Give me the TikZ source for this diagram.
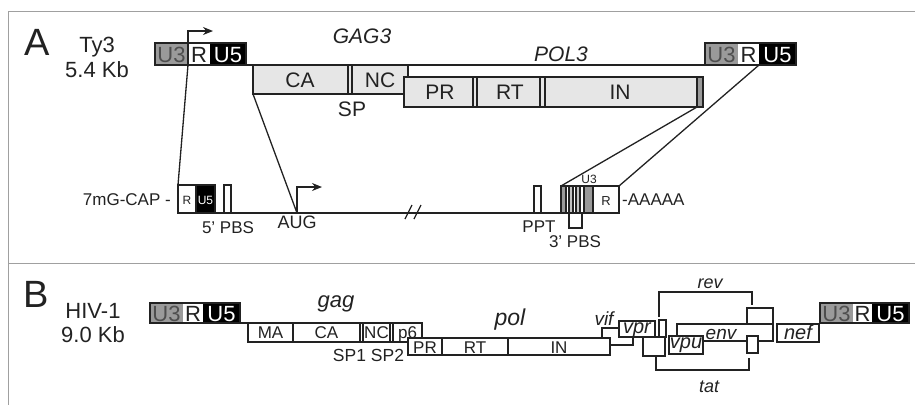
\documentclass[tikz,border=0pt]{standalone}
\usepackage{fontspec}
\setmainfont{Liberation Sans}
\usetikzlibrary{arrows.meta}
\definecolor{ltrg}{HTML}{9A9A9A}
\definecolor{boxg}{HTML}{E6E6E6}
\definecolor{frameg}{HTML}{A0A0A0}
\definecolor{ink}{HTML}{222222}
\newcommand{\fsz}[1]{\fontsize{#1}{#1}\selectfont}
\begin{document}
\begin{tikzpicture}[x=1pt,y=-1pt,
  bx/.style={draw=ink, line width=1.3pt},
  ln/.style={draw=ink, line width=1.3pt},
  t/.style={anchor=base, inner sep=0pt, text=ink},
  arr/.style={ln, -{Stealth[length=10pt,width=8pt]}},
  gfill/.style={bx, fill=boxg},
  wfill/.style={bx, fill=white}]
\useasboundingbox (0,0) rectangle (915,405);
% frame
\draw[frameg, line width=1pt] (915,11) -- (8,11) -- (8,405);
\draw[frameg, line width=1pt] (8,263) -- (915,263);

% ================= Panel A =================
\node[t, font=\fsz{38}] (A) at (37,55) {A};
\node[t, font=\fsz{22}] (ty3) at (97,52) {Ty3};
\node[t, font=\fsz{22}] (ty3kb) at (97,77) {5.4 Kb};

% left LTR
\fill[ltrg] (155,43) rectangle (188,65);
\fill[white] (188,43) rectangle (210,65);
\fill[black] (210,43) rectangle (246,65);
\draw[bx] (155,43) rectangle (246,65);
\node[t, font=\fsz{22}, text=ink!80] (aU3l) at (171.5,62.5) {U3};
\node[t, font=\fsz{22}] (aRl) at (199,62.5) {R};
\node[t, font=\fsz{22}, text=white] (aU5l) at (228,62.5) {U5};

% right LTR
\fill[ltrg] (705,43) rectangle (738,65);
\fill[white] (738,43) rectangle (759,65);
\fill[black] (759,43) rectangle (796,65);
\draw[bx] (705,43) rectangle (796,65);
\node[t, font=\fsz{22}, text=ink!80] (aU3r) at (721.5,62.5) {U3};
\node[t, font=\fsz{22}] (aRr) at (748.5,62.5) {R};
\node[t, font=\fsz{22}, text=white] (aU5r) at (777.5,62.5) {U5};

% genome line
\coordinate (gl1) at (246,65);
\coordinate (gl2) at (705,65);
\draw[ln] (gl1) -- (gl2);

% GAG3 box
\filldraw[gfill] (253,65) rectangle (408,94);
\draw[ln] (348,65) -- (348,94) (352,65) -- (352,94);
% POL3 box
\filldraw[gfill] (404,77) rectangle (703,107);
\draw[ln] (473,77) -- (473,107) (477,77) -- (477,107);
\draw[ln] (540,77) -- (540,107) (545,77) -- (545,107);
\filldraw[bx, fill=ltrg] (697,77) rectangle (703,107);

\node[t, font=\fsz{21}\itshape] (gag3) at (362,43) {GAG3};
\node[t, font=\fsz{21}\itshape] (pol3) at (561,61) {POL3};
\node[t, font=\fsz{21}] (aCA) at (300,87.5) {CA};
\node[t, font=\fsz{21}] (aNC) at (380,87.5) {NC};
\node[t, font=\fsz{21}] (aSP) at (352,116) {SP};
\node[t, font=\fsz{21}] (aPR) at (440,99.5) {PR};
\node[t, font=\fsz{21}] (aRT) at (510,99.5) {RT};
\node[t, font=\fsz{21}] (aIN) at (620,99.5) {IN};

% transcription start arrow
\coordinate (tss) at (188,65);
\coordinate (tsstop) at (188,31);
\coordinate (tsshead) at (213,31);
\draw[arr] (tss) -- (tsstop) -- (tsshead);

% mRNA
\coordinate (m5) at (178,213);
\coordinate (m3) at (619,213);
\draw[ln] (m5) -- (m3);
\draw[ln] (405,219) -- (412,205) (414,219) -- (421,205);
\filldraw[wfill] (178,185) rectangle (196,213);
\filldraw[bx, fill=black] (196,185) rectangle (215,213);
\node[t, font=\fsz{12}] (mR) at (187,204) {R};
\node[t, font=\fsz{12}, text=white] (mU5) at (205.5,204) {U5};
\filldraw[wfill] (224,185) rectangle (231,213);
\node[t, font=\fsz{17}, anchor=base east] (cap) at (171,205) {7mG-CAP -};
\node[t, font=\fsz{17}] (pbs5) at (228,233) {5' PBS};

% AUG arrow
\coordinate (aug) at (297,213);
\draw[arr] (aug) -- (297,187) -- (322,187);
\node[t, font=\fsz{18}] (augt) at (297,228) {AUG};

% 3' region
\filldraw[wfill] (534,186) rectangle (541,213);
\node[t, font=\fsz{17}] (ppt) at (539,232) {PPT};
\filldraw[bx, fill=ltrg] (561,186) rectangle (566,213);
\filldraw[wfill] (566,186) rectangle (569,213);
\filldraw[bx, fill=ltrg!60] (569,186) rectangle (573,213);
\filldraw[wfill] (573,186) rectangle (576,213);
\filldraw[bx, fill=ltrg!60] (576,186) rectangle (580,213);
\filldraw[wfill] (580,186) rectangle (584,213);
\filldraw[bx, fill=ltrg] (584,186) rectangle (593,213);
\filldraw[wfill] (593,186) rectangle (619,213);
\node[t, font=\fsz{13}] (r3) at (606,205) {R};
\node[t, font=\fsz{12}] (u3s) at (589,183) {U3};
\node[t, font=\fsz{17}, anchor=base west] (polyA) at (622,205) {-AAAAA};
\draw[ln] (569,214) -- (569,228) -- (582,228) -- (582,214);
\node[t, font=\fsz{17}] (pbs3) at (575,247) {3' PBS};

% expansion lines
\coordinate (capL) at (178,185);
\coordinate (gagBL) at (253,94);
\coordinate (inBR) at (697,107);
\coordinate (ltrR) at (759,65);
\coordinate (u3L) at (561,186);
\coordinate (rR) at (619,186);
\draw[ln] (tss) -- (capL);
\draw[ln] (gagBL) -- (aug);
\draw[ln] (inBR) -- (u3L);
\draw[ln] (ltrR) -- (rR);

% ================= Panel B =================
\node[t, font=\fsz{38}] (B) at (36,307) {B};
\node[t, font=\fsz{22}] (hiv) at (93,318) {HIV-1};
\node[t, font=\fsz{22}] (hivkb) at (93,342) {9.0 Kb};

% left LTR
\fill[ltrg] (150,303) rectangle (183,323);
\fill[white] (183,303) rectangle (203,323);
\fill[black] (203,303) rectangle (240,323);
\draw[bx] (150,303) rectangle (240,323);
\node[t, font=\fsz{22}, text=ink!80] (bU3l) at (166.5,321) {U3};
\node[t, font=\fsz{22}] (bRl) at (193,321) {R};
\node[t, font=\fsz{22}, text=white] (bU5l) at (221.5,321) {U5};
% right LTR
\fill[ltrg] (820,303) rectangle (853,323);
\fill[white] (853,303) rectangle (872,323);
\fill[black] (872,303) rectangle (909,323);
\draw[bx] (820,303) rectangle (909,323);
\node[t, font=\fsz{22}, text=ink!80] (bU3r) at (836.5,321) {U3};
\node[t, font=\fsz{22}] (bRr) at (862.5,321) {R};
\node[t, font=\fsz{22}, text=white] (bU5r) at (890.5,321) {U5};

\draw[ln] (240,323) -- (248,323);
% gag
\filldraw[wfill] (248,323) rectangle (422,342);
\draw[ln] (293,323) -- (293,342);
\draw[ln] (360,323) -- (360,342) (363,323) -- (363,342);
\draw[ln] (390,323) -- (390,342) (393,323) -- (393,342);
\node[t, font=\fsz{17}] (bMA) at (270.5,338.5) {MA};
\node[t, font=\fsz{17}] (bCA) at (326.5,338.5) {CA};
\node[t, font=\fsz{17}] (bNC) at (376.5,338.5) {NC};
\node[t, font=\fsz{17}] (bp6) at (407.5,338.5) {p6};
\node[t, font=\fsz{22}\itshape] (gagt) at (336,307) {gag};
\node[t, font=\fsz{17.5}] (sp12) at (368.5,361) {SP1 SP2};

% vif (under pol and vpr)
\filldraw[wfill] (602,328) rectangle (633,345);
% pol
\filldraw[wfill] (408,338) rectangle (610,355);
\draw[ln] (442,338) -- (442,355);
\draw[ln] (508,338) -- (508,355);
\node[t, font=\fsz{17}] (bPR) at (425,353) {PR};
\node[t, font=\fsz{17}] (bRT) at (475,353) {RT};
\node[t, font=\fsz{17}] (bIN) at (559,353) {IN};
\node[t, font=\fsz{23}\itshape] (polt) at (510,325) {pol};
\node[t, font=\fsz{19}\itshape] (vift) at (604,325) {vif};
% vpr
\filldraw[wfill] (619,321) rectangle (655,337);
\node[t, font=\fsz{20}\itshape] (vprt) at (637,333) {vpr};
% rev exon 1, tat exon 1
\filldraw[wfill] (659,320) rectangle (666,337);
\filldraw[wfill] (643,337) rectangle (665,356);
% env
\filldraw[wfill] (677,324) rectangle (773,341);
\filldraw[wfill] (747,308) rectangle (773,324);
\filldraw[wfill] (669,336) rectangle (703,354);
\filldraw[wfill] (747,336) rectangle (758,353);
\node[t, font=\fsz{20}\itshape] (vput) at (686,348) {vpu};
\node[t, font=\fsz{19}\itshape] (envt) at (721,339) {env};
% nef
\filldraw[wfill] (777,324) rectangle (819,342);
\node[t, font=\fsz{20}\itshape] (neft) at (798,339) {nef};
% rev / tat brackets
\draw[ln] (659,317) -- (659,292) -- (752,292) -- (752,305);
\draw[ln] (656,356) -- (656,370) -- (749,370) -- (749,358);
\node[t, font=\fsz{18}\itshape] (revt) at (710,288) {rev};
\node[t, font=\fsz{18}\itshape] (tatt) at (709,392) {tat};
\end{tikzpicture}
\end{document}
